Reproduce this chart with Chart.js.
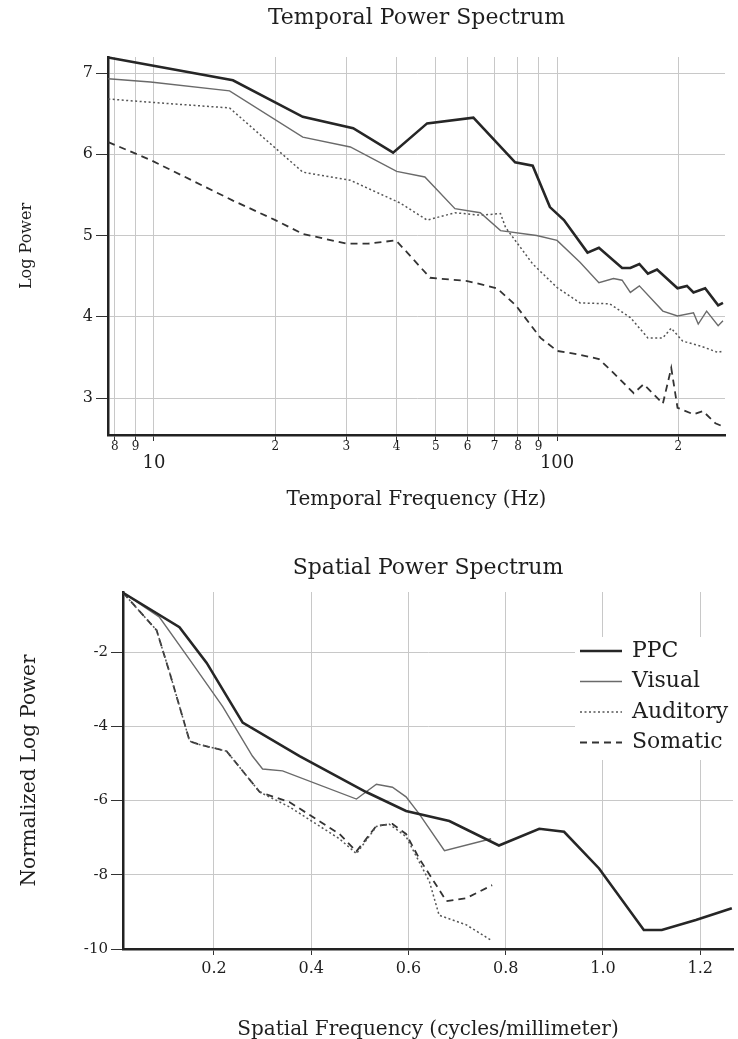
<!DOCTYPE html>
<html>
<head>
<meta charset="utf-8">
<script src="https://cdn.jsdelivr.net/npm/chart.js@4.4.1/dist/chart.umd.min.js"></script>
<style>
  html, body { margin: 0; padding: 0; background: #fff; overflow: hidden; }
  #wrap { position: relative; width: 738px; height: 1039px; overflow: hidden; }
  canvas { position: absolute; left: 0; }
</style>
</head>
<body>
<div id="wrap">
  <canvas id="TemporalChart" width="738" height="530" style="top:0"></canvas>
  <canvas id="SpatialChart" width="738" height="520" style="top:530px"></canvas>
</div>
<script>
// ---- temporal power spectrum: frequency (Hz) vs log power ----
const ppcTempHz  = [7.7, 15.7, 23.4, 31.2, 39.2, 47.6, 62, 78.7, 87, 96, 104, 119, 127, 145, 152, 160, 168, 177, 199, 210, 218, 233, 251, 258];
const ppcTempPow = [7.19, 6.91, 6.46, 6.32, 6.02, 6.38, 6.45, 5.90, 5.86, 5.35, 5.19, 4.79, 4.85, 4.60, 4.60, 4.65, 4.53, 4.58, 4.35, 4.38, 4.30, 4.35, 4.14, 4.17];

const visTempHz  = [7.7, 9.8, 15.4, 23.4, 30.7, 40, 47, 55.8, 64.5, 72.4, 89, 100, 114, 127, 138, 145, 152, 160, 183, 199, 218, 224, 235, 251, 258];
const visTempPow = [6.93, 6.89, 6.78, 6.21, 6.09, 5.79, 5.72, 5.33, 5.28, 5.06, 5.00, 4.94, 4.67, 4.42, 4.47, 4.45, 4.30, 4.38, 4.07, 4.01, 4.05, 3.91, 4.07, 3.89, 3.95];

const audTempHz  = [7.7, 9.8, 15.4, 23.4, 30.7, 40.8, 47.6, 55.8, 64.5, 72.4, 74.5, 87, 100, 114, 135, 152, 168, 183, 192, 205, 227, 251, 258];
const audTempPow = [6.68, 6.64, 6.57, 5.78, 5.68, 5.40, 5.19, 5.28, 5.25, 5.27, 5.10, 4.65, 4.36, 4.17, 4.16, 3.99, 3.74, 3.74, 3.86, 3.70, 3.64, 3.56, 3.58];

const somTempHz  = [7.7, 9.8, 15.7, 20, 23.4, 30, 34, 39.8, 42.5, 48.4, 59.9, 71, 79, 91, 100, 112, 127, 138, 155, 164, 183, 192, 199, 218, 230, 247, 258];
const somTempPow = [6.15, 5.93, 5.43, 5.19, 5.02, 4.90, 4.90, 4.94, 4.79, 4.48, 4.44, 4.35, 4.14, 3.74, 3.58, 3.54, 3.48, 3.31, 3.06, 3.17, 2.93, 3.37, 2.88, 2.80, 2.84, 2.69, 2.65];

const tempTickHz     = [8, 9, 10, 20, 30, 40, 50, 60, 70, 80, 90, 100, 200];
const tempTickLabels = ['8', '9', ['', '10'], '2', '3', '4', '5', '6', '7', '8', '9', ['', '100'], '2'];
const tempTickPow    = [3, 4, 5, 6, 7];

// ---- spatial power spectrum: cycles/mm vs normalized log power ----
const ppcSpatFreq = [0.013, 0.129, 0.185, 0.259, 0.376, 0.513, 0.595, 0.684, 0.786, 0.869, 0.92, 0.992, 1.084, 1.121, 1.191, 1.265];
const ppcSpatPow  = [-0.4, -1.33, -2.29, -3.9, -4.8, -5.77, -6.28, -6.55, -7.21, -6.76, -6.84, -7.83, -9.49, -9.49, -9.22, -8.9];

const visSpatFreq = [0.013, 0.088, 0.15, 0.218, 0.279, 0.30, 0.341, 0.493, 0.534, 0.567, 0.595, 0.622, 0.674, 0.77];
const visSpatPow  = [-0.4, -1.06, -2.2, -3.47, -4.8, -5.15, -5.2, -5.96, -5.56, -5.64, -5.9, -6.36, -7.35, -7.03];

const audSpatFreq = [0.013, 0.082, 0.109, 0.15, 0.17, 0.226, 0.294, 0.355, 0.458, 0.493, 0.534, 0.56, 0.595, 0.643, 0.663, 0.719, 0.772];
const audSpatPow  = [-0.4, -1.41, -2.56, -4.4, -4.49, -4.67, -5.77, -6.17, -7.03, -7.43, -6.7, -6.63, -6.97, -8.18, -9.09, -9.35, -9.78];

const somSpatFreq = [0.013, 0.082, 0.109, 0.15, 0.17, 0.226, 0.294, 0.355, 0.458, 0.493, 0.534, 0.567, 0.595, 0.622, 0.678, 0.719, 0.772];
const somSpatPow  = [-0.4, -1.41, -2.56, -4.4, -4.49, -4.67, -5.77, -6.04, -6.9, -7.37, -6.68, -6.63, -6.9, -7.56, -8.71, -8.63, -8.28];

const spatTickFreq   = [0.2, 0.4, 0.6, 0.8, 1.0, 1.2];
const spatTickLabels = ['0.2', '0.4', '0.6', '0.8', '1.0', '1.2'];
const spatTickPow    = [-10, -8, -6, -4, -2];

const seriesNames = ['PPC', 'Visual', 'Auditory', 'Somatic'];

// ---- styling ----
const SERIF = '"DejaVu Serif", "Liberation Serif", serif';
const INK = '#1e1e1e';
const GRID = '#c8c8c8';
const lineStyles = [
  { borderColor: '#262626', borderWidth: 2.6, borderDash: [] },
  { borderColor: '#6a6a6a', borderWidth: 1.4, borderDash: [] },
  { borderColor: '#555555', borderWidth: 1.5, borderDash: [2, 2.5] },
  { borderColor: '#333333', borderWidth: 1.8, borderDash: [7, 5] }
];

function pts(xs, ys) {
  return xs.map((x, i) => ({ x: x, y: ys[i] }));
}

function makeDatasets(series) {
  return series.map((d, i) => Object.assign({
    label: seriesNames[i],
    data: pts(d[0], d[1]),
    showLine: true,
    tension: 0,
    pointRadius: 0,
    fill: false,
    clip: 4
  }, lineStyles[i]));
}

// legend drawn inside the spatial plot, on a white patch
const spatialLegend = {
  id: 'spatialLegend',
  afterDraw(chart) {
    const ctx = chart.ctx;
    const a = chart.chartArea;
    const x0 = a.right - 153;
    const y0 = a.top + 59;
    ctx.save();
    ctx.fillStyle = '#fff';
    ctx.fillRect(a.right - 158, a.top + 45, 170, 123);
    chart.data.datasets.forEach((ds, i) => {
      const y = y0 + i * 30.5;
      ctx.strokeStyle = ds.borderColor;
      ctx.lineWidth = ds.borderWidth;
      ctx.setLineDash(ds.borderDash || []);
      ctx.beginPath();
      ctx.moveTo(x0, y);
      ctx.lineTo(x0 + 42, y);
      ctx.stroke();
      ctx.setLineDash([]);
      ctx.fillStyle = INK;
      ctx.font = '22px ' + SERIF;
      ctx.textBaseline = 'middle';
      ctx.textAlign = 'left';
      ctx.fillText(ds.label, x0 + 52, y);
    });
    ctx.restore();
  }
};

Chart.defaults.font.family = SERIF;
Chart.defaults.color = INK;
Chart.defaults.animation = false;

// ---- top chart ----
new Chart(document.getElementById('TemporalChart'), {
  type: 'scatter',
  data: {
    datasets: makeDatasets([
      [ppcTempHz, ppcTempPow],
      [visTempHz, visTempPow],
      [audTempHz, audTempPow],
      [somTempHz, somTempPow]
    ])
  },
  options: {
    responsive: false,
    layout: { padding: { left: 0, right: 13, top: 0, bottom: 10 } },
    plugins: {
      legend: { display: false },
      tooltip: { enabled: false },
      title: {
        display: true,
        text: 'Temporal Power Spectrum',
        fullSize: false,
        color: INK,
        font: { size: 22, weight: 'normal' },
        padding: { top: 4.8, bottom: 25.8 }
      }
    },
    scales: {
      x: {
        type: 'logarithmic',
        min: 7.69,
        max: 261,
        afterBuildTicks: s => { s.ticks = tempTickHz.map(v => ({ value: v })); },
        afterFit: s => { s.height = 85; },
        ticks: {
          autoSkip: false,
          maxRotation: 0,
          padding: 0,
          color: INK,
          callback: (v, i) => tempTickLabels[i],
          font: c => Array.isArray(tempTickLabels[c.index])
            ? { size: 18, lineHeight: 0.82 }
            : { size: 12, lineHeight: 1 }
        },
        grid: { color: GRID, lineWidth: 1, tickLength: 6, tickColor: '#333' },
        border: { color: '#222', width: 2.5 },
        title: {
          display: true,
          text: 'Temporal Frequency (Hz)',
          color: INK,
          font: { size: 20 },
          padding: { top: 0, bottom: 8 }
        }
      },
      y: {
        min: 2.545,
        max: 7.197,
        afterBuildTicks: s => { s.ticks = tempTickPow.map(v => ({ value: v })); },
        afterFit: s => { s.width = 108; },
        ticks: { padding: 3, color: INK, font: { size: 16 } },
        grid: { color: GRID, lineWidth: 1, tickLength: 12, tickColor: '#333' },
        border: { color: '#222', width: 2.5 },
        title: {
          display: true,
          text: 'Log Power',
          color: INK,
          font: { size: 16 },
          padding: { top: 17.4, bottom: 0 }
        }
      }
    }
  }
});

// ---- bottom chart ----
new Chart(document.getElementById('SpatialChart'), {
  type: 'scatter',
  data: {
    datasets: makeDatasets([
      [ppcSpatFreq, ppcSpatPow],
      [visSpatFreq, visSpatPow],
      [audSpatFreq, audSpatPow],
      [somSpatFreq, somSpatPow]
    ])
  },
  plugins: [spatialLegend],
  options: {
    responsive: false,
    layout: { padding: { left: 0, right: 5, top: 0, bottom: 0 } },
    plugins: {
      legend: { display: false },
      tooltip: { enabled: false },
      title: {
        display: true,
        text: 'Spatial Power Spectrum',
        fullSize: false,
        color: INK,
        font: { size: 22, weight: 'normal' },
        padding: { top: 24.8, bottom: 10.8 }
      }
    },
    scales: {
      x: {
        type: 'linear',
        min: 0.0129,
        max: 1.2674,
        afterBuildTicks: s => { s.ticks = spatTickFreq.map(v => ({ value: v })); },
        afterFit: s => { s.height = 101; },
        ticks: {
          autoSkip: false,
          maxRotation: 0,
          padding: 4,
          color: INK,
          font: { size: 16 },
          callback: (v, i) => spatTickLabels[i]
        },
        grid: { color: GRID, lineWidth: 1, tickLength: 6, tickColor: '#333' },
        border: { color: '#222', width: 2.5 },
        title: {
          display: true,
          text: 'Spatial Frequency (cycles/millimeter)',
          color: INK,
          font: { size: 20 },
          padding: { top: 0, bottom: 8 }
        }
      },
      y: {
        min: -10,
        max: -0.38,
        afterBuildTicks: s => { s.ticks = spatTickPow.map(v => ({ value: v })); },
        afterFit: s => { s.width = 123; },
        ticks: { padding: 3, color: INK, font: { size: 15 } },
        grid: { color: GRID, lineWidth: 1, tickLength: 12, tickColor: '#333' },
        border: { color: '#222', width: 2.5 },
        title: {
          display: true,
          text: 'Normalized Log Power',
          color: INK,
          font: { size: 20 },
          padding: { top: 18, bottom: 0 }
        }
      }
    }
  }
});
</script>
</body>
</html>
